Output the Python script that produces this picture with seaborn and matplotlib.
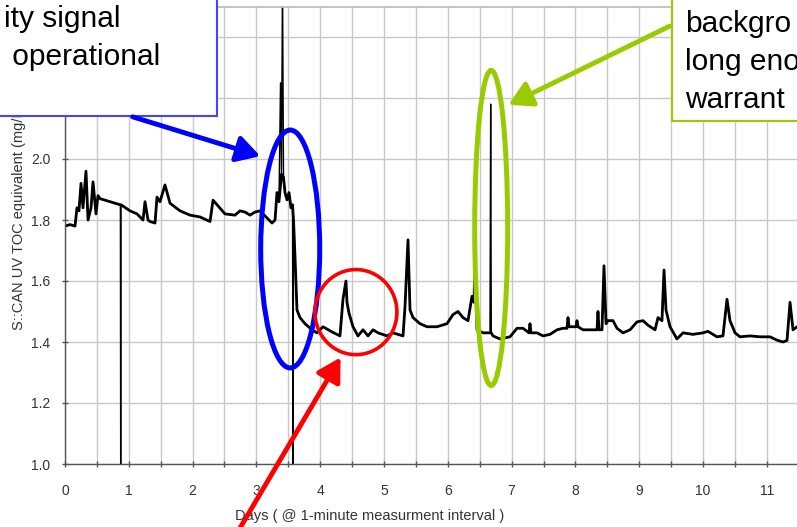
import numpy as np
import pandas as pd
import seaborn as sns
import matplotlib.pyplot as plt
from matplotlib.patches import Ellipse, Rectangle, FancyArrowPatch
from matplotlib.ticker import MultipleLocator

# values
days = [0.000, 0.078, 0.157, 0.188, 0.219, 0.251, 0.282, 0.329, 0.361, 0.408,
        0.439, 0.486, 0.517, 0.549, 0.705, 0.862, 0.868, 0.873, 0.878, 1.019,
        1.129, 1.223, 1.254, 1.301, 1.332, 1.411, 1.442, 1.489, 1.567, 1.614,
        1.646, 1.803, 1.959, 2.116, 2.273, 2.320, 2.382, 2.508, 2.665, 2.743,
        2.821, 2.900, 2.978, 3.056, 3.150, 3.245, 3.292, 3.323, 3.354, 3.378,
        3.393, 3.409, 3.425, 3.448, 3.480, 3.511, 3.542, 3.566, 3.574, 3.582,
        3.605, 3.636, 3.683, 3.762, 3.871, 3.950, 4.044, 4.185, 4.310, 4.357,
        4.404, 4.420, 4.451, 4.514, 4.592, 4.671, 4.749, 4.828, 4.906, 5.047,
        5.141, 5.298, 5.329, 5.376, 5.408, 5.455, 5.564, 5.674, 5.831, 5.987,
        6.082, 6.160, 6.238, 6.317, 6.379, 6.411, 6.426, 6.458, 6.552, 6.661,
        6.672, 6.682, 6.708, 6.818, 6.975, 7.085, 7.179, 7.273, 7.288, 7.304,
        7.398, 7.492, 7.602, 7.712, 7.806, 7.868, 7.884, 7.900, 7.947, 8.009,
        8.025, 8.041, 8.119, 8.229, 8.339, 8.354, 8.370, 8.417, 8.448, 8.480,
        8.511, 8.589, 8.652, 8.746, 8.856, 8.966, 9.060, 9.138, 9.248, 9.295,
        9.357, 9.389, 9.420, 9.483, 9.592, 9.687, 9.843, 10.000, 10.078, 10.219,
        10.313, 10.376, 10.423, 10.502, 10.580, 10.737, 10.893, 11.050, 11.160, 11.254,
        11.317, 11.364, 11.411, 11.473]
toc = [1.78, 1.785, 1.78, 1.84, 1.83, 1.92, 1.84, 1.96, 1.80, 1.84,
       1.925, 1.82, 1.88, 1.87, 1.86, 1.85, 1.85, 0.90, 1.85, 1.83,
       1.82, 1.80, 1.86, 1.80, 1.795, 1.79, 1.875, 1.86, 1.915, 1.88,
       1.855, 1.83, 1.816, 1.81, 1.795, 1.865, 1.85, 1.82, 1.816, 1.83,
       1.826, 1.816, 1.826, 1.83, 1.81, 1.79, 1.80, 1.89, 1.86, 2.25,
       1.95, 2.60, 1.94, 1.89, 1.866, 1.89, 1.84, 1.85, 0.90, 1.80,
       1.68, 1.505, 1.48, 1.46, 1.44, 1.43, 1.45, 1.433, 1.42, 1.54,
       1.60, 1.53, 1.495, 1.45, 1.42, 1.44, 1.42, 1.44, 1.43, 1.42,
       1.43, 1.42, 1.515, 1.735, 1.505, 1.48, 1.46, 1.45, 1.45, 1.46,
       1.49, 1.50, 1.48, 1.47, 1.55, 1.53, 1.695, 1.44, 1.43, 1.43,
       2.18, 1.43, 1.42, 1.41, 1.417, 1.445, 1.445, 1.43, 1.46, 1.43,
       1.43, 1.42, 1.425, 1.44, 1.445, 1.445, 1.48, 1.45, 1.45, 1.45,
       1.47, 1.45, 1.44, 1.44, 1.44, 1.50, 1.44, 1.44, 1.65, 1.46,
       1.47, 1.47, 1.445, 1.43, 1.44, 1.466, 1.47, 1.455, 1.44, 1.48,
       1.47, 1.636, 1.505, 1.45, 1.41, 1.43, 1.425, 1.43, 1.435, 1.417,
       1.42, 1.54, 1.47, 1.43, 1.417, 1.42, 1.417, 1.417, 1.406, 1.40,
       1.405, 1.53, 1.44, 1.45]

x_ticks = list(range(0, 12))
y_ticks = [1.0, 1.2, 1.4, 1.6, 1.8, 2.0, 2.2, 2.4]
y_tick_labels = ["1.0", "1.2", "1.4", "1.6", "1.8", "2.0", "", ""]  # 2.2/2.4 sit under the box

left_box_lines = ["ity signal", " operational"]
right_box_lines = ["backgro", "long eno", "warrant"]

df = pd.DataFrame({"days": days, "toc": toc})
# thick trace for the normal signal, spikes/dropouts stay thin
df["toc_body"] = df["toc"].where((df["toc"] > 1.0) & (df["toc"] < 2.1), np.nan)

sns.set_theme(style="whitegrid")
plt.rcParams["font.family"] = ["Liberation Sans", "DejaVu Sans"]

W, H = 797, 527
fig = plt.figure(figsize=(W / 100, H / 100), dpi=100)
ax = fig.add_axes([65 / W, 63 / H, 765.6 / W, 457.5 / H])

sns.lineplot(data=df, x="days", y="toc", ax=ax, color="black", lw=1.0,
             sort=False, estimator=None)
sns.lineplot(data=df, x="days", y="toc_body", ax=ax, color="black", lw=2.0,
             sort=False, estimator=None)

ax.set_xlim(0, 12)
ax.set_ylim(1.0, 2.5)
ax.set_xticks(x_ticks)
ax.set_xticklabels([str(t) for t in x_ticks])
ax.xaxis.set_minor_locator(MultipleLocator(0.5))
ax.set_yticks(y_ticks)
ax.set_yticklabels(y_tick_labels)

ax.grid(which="both", color="#c8c8c8", lw=1.0)
ax.tick_params(which="both", bottom=True, left=True, direction="inout",
               length=5, width=1, color="#555", labelcolor="#333")
ax.tick_params(axis="x", labelsize=10, pad=12)
ax.tick_params(axis="y", labelsize=10, pad=8)
for side in ["left", "bottom"]:
    ax.spines[side].set_color("#555")
    ax.spines[side].set_linewidth(1.0)
ax.spines["top"].set_color("#bbbbbb")
ax.spines["right"].set_visible(False)

ax.set_xlabel("Days ( @ 1-minute measurment interval )", fontsize=10.5, color="#333")
ax.xaxis.set_label_coords(0.398, -0.098)
ax.set_ylabel("S::CAN UV TOC equivalent (mg/L)", fontsize=10.5, color="#333")
ax.yaxis.set_label_coords(-0.051, 0.54)

# highlight ellipses
ax.add_patch(Ellipse((3.53, 1.705), 0.925, 0.78, fill=False, ec="#0000ff", lw=3.6, zorder=4))
ax.add_patch(Ellipse((4.56, 1.498), 1.285, 0.279, fill=False, ec="#ff0000", lw=2.6, zorder=4))
ax.add_patch(Ellipse((6.68, 1.774), 0.517, 1.033, fill=False, ec="#99cc00", lw=3.6, zorder=4))


def fx(px):
    return px / W


def fy(py):
    return 1 - py / H


# text boxes
fig.add_artist(Rectangle((fx(-5), fy(116)), fx(222), 121 / H, transform=fig.transFigure,
                         fc="white", ec="#4444ff", lw=1.5, zorder=5))
fig.add_artist(Rectangle((fx(672), fy(121)), fx(200), 130 / H, transform=fig.transFigure,
                         fc="white", ec="#99cc00", lw=1.5, zorder=5))
for i, s in enumerate(left_box_lines):
    fig.text(fx(4), fy(27 + 38 * i), s, fontsize=21.5, va="baseline",
             color="black", zorder=6)
for i, s in enumerate(right_box_lines):
    fig.text(fx(685), fy(32 + 38 * i), s, fontsize=21.5, va="baseline",
             color="black", zorder=6)

# arrows
arrows = [((130, 116), (263, 157), "#0000ff"),
          ((672, 25), (506, 106), "#99cc00"),
          ((230, 545), (342, 355), "#ff0000")]
for (x0, y0), (x1, y1), c in arrows:
    fig.add_artist(FancyArrowPatch((fx(x0), fy(y0)), (fx(x1), fy(y1)),
                                   transform=fig.transFigure,
                                   arrowstyle="-|>,head_length=0.7,head_width=0.4",
                                   mutation_scale=20, lw=3.5, color=c, zorder=5))

fig.savefig("out.png", dpi=100)
